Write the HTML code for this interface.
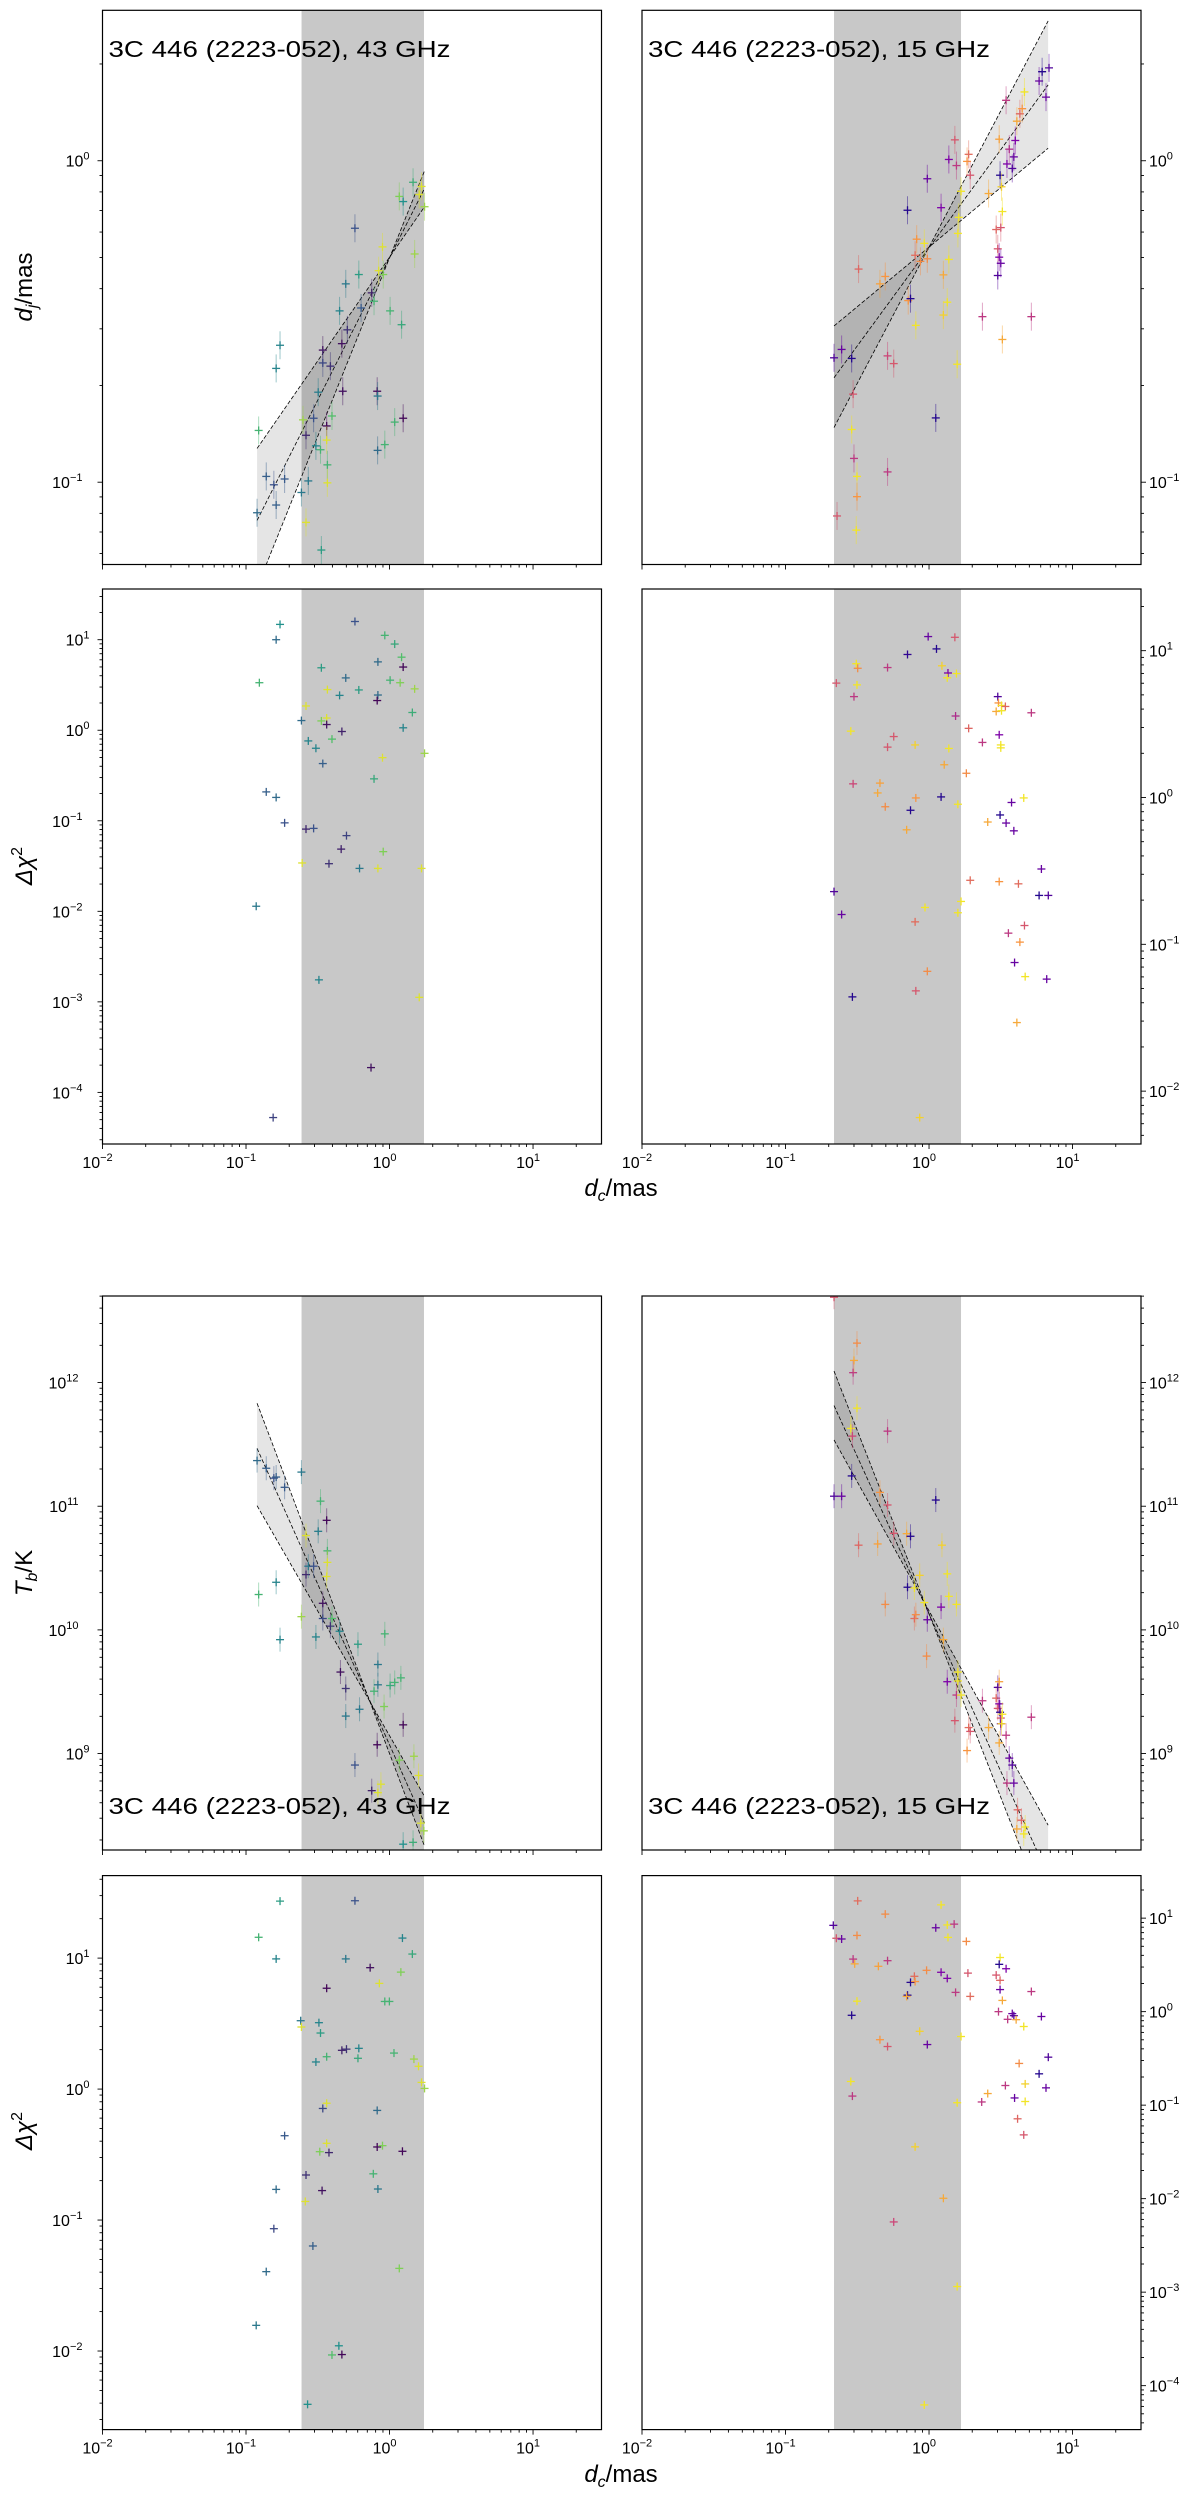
<!DOCTYPE html>
<html><head><meta charset="utf-8"><style>
html,body{margin:0;padding:0;background:#fff;}
svg text{font-family:"Liberation Sans",sans-serif;fill:#000;}
</style></head><body>
<svg id="fig" xmlns="http://www.w3.org/2000/svg" width="1200" height="2499" viewBox="0 0 1200 2499"></svg>
<script>
// ---- data (log10 values) ----
const tlX=[-0.923,-0.912,-0.859,-0.806,-0.790,-0.790,-0.763,-0.731,-0.614,-0.603,-0.582,-0.582,-0.566,-0.529,-0.513,-0.497,-0.481,-0.475,-0.465,-0.465,-0.438,-0.438,-0.433,-0.433,-0.412,-0.401,-0.348,-0.332,-0.326,-0.305,-0.294,-0.241,-0.214,-0.198,-0.124,-0.108,-0.086,-0.083,-0.083,-0.076,-0.049,-0.044,-0.033,0.004,0.036,0.068,0.084,0.095,0.095,0.164,0.175,0.207,0.223,0.244];
const tlY=[-1.095,-0.839,-0.982,-1.008,-1.071,-0.646,-0.574,-0.990,-1.032,-0.806,-1.125,-0.854,-0.996,-0.801,-0.887,-0.720,-0.899,-1.211,-0.589,-0.629,-0.825,-0.869,-0.946,-1.002,-0.639,-0.794,-0.467,-0.569,-0.717,-0.383,-0.526,-0.210,-0.354,-0.458,-0.411,-0.437,-0.717,-0.732,-0.901,-0.342,-0.268,-0.354,-0.883,-0.467,-0.813,-0.111,-0.510,-0.127,-0.801,-0.067,-0.290,-0.105,-0.080,-0.143];
const tlC=[.35,.65,.3,.25,.3,.45,.45,.28,.4,.85,.95,.12,.4,.25,.45,.42,.65,.55,.05,.22,.02,.95,.65,.95,.15,.7,.45,.05,.05,.4,.15,.25,.55,.28,.1,.65,.02,.4,.35,.95,.95,.8,.65,.65,.65,.8,.6,.5,.02,.62,.85,.95,.95,.85];

const trX=[-0.662,-0.641,-0.609,-0.539,-0.539,-0.529,-0.523,-0.507,-0.502,-0.502,-0.491,-0.342,-0.305,-0.289,-0.289,-0.246,-0.150,-0.145,-0.129,-0.097,-0.092,-0.086,-0.060,-0.033,-0.012,-0.012,0.047,0.084,0.100,0.100,0.127,0.138,0.138,0.180,0.191,0.196,0.201,0.207,0.223,0.265,0.276,0.287,0.372,0.415,0.468,0.479,0.479,0.489,0.489,0.495,0.500,0.500,0.505,0.511,0.511,0.537,0.543,0.559,0.580,0.591,0.601,0.612,0.633,0.649,0.665,0.713,0.767,0.788,0.815,0.836];
const trY=[-0.613,-1.105,-0.587,-0.615,-0.836,-0.726,-0.926,-1.149,-0.982,-1.045,-0.337,-0.383,-0.360,-0.607,-0.968,-0.631,-0.154,-0.435,-0.429,-0.294,-0.512,-0.244,-0.313,-0.257,-0.056,-0.305,-0.800,-0.146,-0.355,-0.480,-0.440,0.004,-0.307,0.065,-0.015,-0.633,-0.226,-0.176,-0.095,-0.002,0.020,-0.045,-0.485,-0.102,-0.214,-0.274,-0.357,-0.300,0.067,-0.045,-0.208,-0.319,-0.081,-0.158,-0.556,0.188,-0.010,0.036,-0.024,0.012,0.063,0.123,0.146,0.162,0.214,-0.485,0.248,0.277,0.198,0.289];
const trC=[.15,.55,.2,.05,.95,.55,.45,.95,.95,.75,.6,.78,.75,.5,.45,.55,.05,.75,.05,.62,.95,.75,.72,.95,.2,.72,.05,.25,.8,.9,.95,.25,.95,.55,.45,.95,.95,.95,.95,.75,.62,.55,.45,.8,.6,.55,.15,.25,.78,.05,.55,.2,.9,.95,.8,.45,.25,.4,.15,.2,.25,.8,.6,.75,.95,.45,.2,.05,.2,.15];

const mlX=[-0.763,-0.241,-0.790,-0.033,0.036,0.084,-0.081,0.095,-0.475,-0.907,-0.305,0.004,0.074,-0.433,-0.214,0.175,-0.348,-0.081,-0.086,-0.582,0.159,-0.614,-0.475,-0.438,-0.438,0.095,-0.332,-0.566,-0.401,-0.513,0.244,-0.049,-0.465,-0.108,-0.859,-0.790,-0.731,-0.582,-0.529,-0.300,-0.337,-0.044,-0.609,-0.422,-0.209,-0.081,0.223,-0.929,-0.492,0.207,-0.129,-0.811];
const mlY=[1.169,1.201,1.0,1.048,0.952,0.807,0.755,0.698,0.690,0.525,0.578,0.553,0.525,0.449,0.445,0.457,0.385,0.389,0.328,0.268,0.196,0.107,0.103,0.135,0.063,0.027,-0.014,-0.118,-0.098,-0.199,-0.255,-0.303,-0.368,-0.537,-0.681,-0.742,-1.023,-1.092,-1.084,-1.164,-1.313,-1.341,-1.466,-1.474,-1.526,-1.526,-1.526,-1.944,-2.757,-2.950,-3.726,-4.278];
const mlC=[.5,.25,.35,.65,.6,.7,.35,.02,.55,.65,.35,.65,.8,.95,.55,.85,.45,.35,.02,.95,.62,.35,.8,.95,.05,.45,.1,.45,.7,.45,.85,.95,.3,.6,.3,.35,.25,.12,.25,.2,.1,.8,.95,.15,.4,.95,.95,.4,.45,.95,.05,.2];

const mrX=[-0.006,0.180,0.052,-0.150,-0.507,-0.497,-0.289,0.090,0.132,0.191,0.127,-0.646,-0.502,-0.523,0.479,0.484,0.505,0.532,0.468,0.505,0.713,0.185,0.276,-0.545,0.489,-0.246,0.372,-0.097,0.500,0.500,-0.289,0.138,0.106,0.260,-0.529,-0.342,-0.358,-0.092,0.084,0.660,0.575,0.201,-0.305,-0.129,0.495,0.409,0.537,-0.156,0.591,0.783,0.287,0.489,0.623,-0.662,0.767,0.831,0.223,-0.028,0.201,-0.609,-0.097,0.665,0.553,0.633,0.596,-0.012,0.670,0.820,-0.092,-0.534,0.612,-0.065];
const mrY=[1.096,1.091,1.012,0.974,0.911,0.880,0.885,0.897,0.848,0.844,0.815,0.779,0.767,0.687,0.687,0.644,0.627,0.620,0.586,0.591,0.577,0.555,0.471,0.452,0.427,0.415,0.375,0.358,0.358,0.338,0.343,0.334,0.223,0.165,0.093,0.098,0.031,-0.003,0.004,-0.003,-0.034,-0.046,-0.063,-0.087,-0.119,-0.167,-0.174,-0.220,-0.227,-0.487,-0.564,-0.573,-0.588,-0.641,-0.667,-0.667,-0.708,-0.749,-0.785,-0.797,-0.847,-0.872,-0.924,-0.985,-1.124,-1.184,-1.220,-1.237,-1.317,-1.358,-1.533,-2.180];
const mrC=[.2,.55,.05,.08,.95,.72,.45,.9,.25,.95,.95,.55,.95,.45,.15,.75,.95,.6,.8,.95,.45,.4,.6,.95,.25,.55,.45,.9,.95,.95,.55,.95,.8,.72,.5,.78,.8,.75,.05,.95,.2,.95,.72,.05,.05,.8,.2,.8,.2,.2,.62,.75,.62,.15,.05,.15,.95,.95,.95,.2,.62,.55,.45,.75,.2,.72,.95,.2,.55,.05,.8,.9];

const blX=[-0.923,-0.859,-0.806,-0.790,-0.731,-0.614,-0.912,-0.790,-0.763,-0.614,-0.582,-0.582,-0.566,-0.529,-0.513,-0.497,-0.481,-0.465,-0.465,-0.438,-0.438,-0.433,-0.433,-0.412,-0.401,-0.348,-0.342,-0.305,-0.305,-0.241,-0.220,-0.209,-0.124,-0.108,-0.086,-0.081,-0.081,-0.081,-0.060,-0.038,-0.033,0.004,0.036,0.079,0.068,0.095,0.095,0.164,0.170,0.202,0.218,0.239];
const blY=[11.369,11.307,11.227,11.236,11.153,11.276,10.286,10.385,9.921,10.107,10.763,10.447,10.515,10.515,9.943,10.797,11.041,10.215,10.092,10.886,10.432,10.639,10.546,10.030,10.092,9.989,9.659,9.526,9.303,8.907,9.884,9.358,8.700,9.504,9.071,9.720,9.556,8.684,8.752,9.380,9.968,9.550,9.575,9.612,8.947,9.232,8.267,8.282,8.978,8.823,8.437,8.375];
const blC=[.35,.3,.25,.3,.28,.4,.65,.45,.45,.85,.95,.12,.4,.25,.45,.42,.65,.05,.22,.02,.95,.65,.95,.15,.7,.45,.05,.15,.4,.25,.55,.4,.1,.65,.02,.4,.4,.95,.95,.8,.65,.6,.65,.65,.8,.02,.5,.62,.85,.95,.95,.85];

const brX=[-0.662,-0.662,-0.609,-0.539,-0.545,-0.529,-0.523,-0.502,-0.502,-0.534,-0.491,-0.358,-0.342,-0.305,-0.289,-0.289,-0.246,-0.156,-0.150,-0.129,-0.102,-0.092,-0.065,-0.102,-0.033,-0.012,-0.017,0.047,0.084,0.090,0.100,0.127,0.138,0.127,0.180,0.191,0.191,0.201,0.201,0.223,0.265,0.276,0.287,0.372,0.415,0.468,0.479,0.479,0.489,0.489,0.495,0.500,0.500,0.505,0.511,0.489,0.537,0.543,0.559,0.580,0.591,0.617,0.612,0.644,0.660,0.670,0.713];
const brY=[12.690,11.081,11.081,11.245,11.629,12.080,12.179,12.319,11.793,11.567,10.685,10.695,11.112,10.206,11.607,11.010,10.781,10.778,10.345,10.757,10.092,10.123,10.441,10.339,10.221,10.082,9.788,11.050,10.184,10.685,9.921,10.453,10.271,9.581,9.266,9.473,10.206,9.659,9.587,9.473,9.024,9.210,9.179,9.427,9.210,9.448,9.365,9.535,9.402,9.581,9.334,9.287,9.241,9.241,9.318,9.086,9.148,8.761,8.963,8.907,8.761,8.545,8.390,8.461,8.350,8.406,9.294];
const brC=[.55,.15,.2,.05,.95,.45,.8,.72,.95,.5,.6,.78,.75,.72,.45,.55,.55,.8,.05,.05,.62,.72,.9,.95,.95,.2,.72,.05,.25,.9,.8,.95,.95,.25,.55,.45,.95,.95,.95,.95,.75,.62,.55,.45,.8,.6,.55,.15,.25,.78,.05,.55,.2,.9,.95,.8,.45,.45,.2,.15,.2,.6,.8,.6,.95,.95,.45];

const qlX=[-0.763,-0.241,-0.912,-0.790,-0.305,-0.135,-0.438,0.090,0.159,0.079,-0.071,-0.033,-0.001,-0.619,-0.614,-0.492,-0.481,-0.513,-0.438,-0.332,-0.300,-0.214,-0.220,0.031,0.170,0.202,0.223,0.244,-0.465,-0.438,-0.086,-0.731,-0.438,-0.486,-0.422,-0.086,-0.049,0.090,-0.582,-0.113,-0.790,-0.470,-0.081,-0.587,-0.806,-0.534,-0.859,0.068,-0.929,-0.353,-0.401,-0.332,-0.571];
const qlY=[1.435,1.438,1.159,0.994,0.994,0.927,0.770,1.153,1.031,0.893,0.807,0.669,0.669,0.522,0.474,0.507,0.428,0.207,0.247,0.296,0.305,0.311,0.235,0.275,0.229,0.174,0.051,0.005,-0.148,-0.108,-0.163,-0.356,-0.414,-0.478,-0.485,-0.442,-0.432,-0.475,-0.656,-0.647,-0.766,-0.775,-0.763,-0.858,-1.066,-1.198,-1.394,-1.369,-1.804,-1.960,-2.030,-2.027,-2.407];
const qlC=[.55,.25,.65,.45,.4,.05,.02,.45,.6,.8,.95,.65,.65,.4,.95,.45,.55,.45,.65,.1,.15,.45,.6,.65,.85,.95,.95,.85,.22,.95,.35,.28,.95,.8,.12,.02,.8,.02,.15,.65,.35,.05,.4,.95,.22,.3,.35,.8,.4,.5,.7,.02,.5];

const qrX=[-0.497,-0.305,0.084,-0.667,-0.646,-0.609,-0.502,0.047,0.127,0.175,0.132,0.260,-0.529,-0.518,-0.289,-0.353,0.495,0.489,0.537,-0.017,0.084,0.271,-0.102,-0.129,-0.097,0.127,0.468,0.495,0.495,0.185,0.287,-0.150,-0.156,-0.502,0.511,0.713,-0.539,0.484,0.580,0.591,0.548,0.607,0.783,0.660,-0.065,0.223,-0.342,-0.289,-0.012,0.831,0.628,0.767,-0.545,0.532,0.670,0.409,-0.534,0.596,0.815,0.367,0.670,0.196,0.617,0.660,-0.097,0.100,-0.246,0.196,-0.033];
const qrY=[1.185,1.043,1.142,0.923,0.785,0.777,0.815,0.897,0.927,0.936,0.794,0.751,0.562,0.511,0.545,0.485,0.579,0.506,0.459,0.442,0.421,0.412,0.378,0.313,0.322,0.356,0.391,0.335,0.236,0.206,0.163,0.176,0.163,0.112,0.120,0.215,-0.039,0.0,-0.021,-0.043,-0.082,-0.086,-0.052,-0.159,-0.210,-0.266,-0.300,-0.373,-0.352,-0.487,-0.554,-0.665,-0.747,-0.790,-0.773,-0.876,-0.903,-0.923,-0.815,-0.966,-0.961,-0.974,-1.146,-1.318,-1.446,-1.996,-2.249,-2.940,-4.206];
const qrC=[.62,.72,.95,.15,.55,.2,.72,.2,.95,.45,.95,.72,.45,.8,.45,.78,.95,.05,.25,.72,.25,.55,.62,.05,.75,.25,.55,.6,.2,.45,.62,.05,.8,.95,.8,.45,.05,.45,.2,.15,.45,.8,.2,.95,.9,.95,.75,.55,.2,.15,.72,.05,.95,.45,.9,.8,.45,.2,.2,.45,.95,.95,.6,.55,.9,.8,.5,.95,.95];

// fit lines: log x range, log y at start / end for three lines
const fitTLx=[-0.923,0.244], fitTLy0=[-0.895,-1.119,-1.327], fitTLy1=[-0.143,-0.086,-0.031];
const fitTRx=[-0.662,0.830], fitTRy0=[-0.514,-0.675,-0.830], fitTRy1=[0.039,0.236,0.435];
const fitBLx=[-0.923,0.244], fitBLy0=[11.833,11.468,11.004], fitBLy1=[8.251,8.437,8.653];
const fitBRx=[-0.662,0.830], fitBRy0=[12.093,11.814,11.536], fitBRy1=[7.667,8.016,8.421];
const shadeL=[-0.613,0.240], shadeR=[-0.662,0.223];
const xTicks=[-2,-1,0,1];

// ---- drawing ----
const NS="http://www.w3.org/2000/svg";
const svg=document.getElementById('fig');
function mk(tag,at,parent){const e=document.createElementNS(NS,tag);for(const k in at)e.setAttribute(k,at[k]);(parent||svg).appendChild(e);return e;}
function lerpHex(a,b,t){const pa=[1,3,5].map(i=>parseInt(a.substr(i,2),16)),pb=[1,3,5].map(i=>parseInt(b.substr(i,2),16));return 'rgb('+pa.map((v,i)=>Math.round(v+(pb[i]-v)*t)).join(',')+')';}
const VIR=['#440154','#3b528b','#21918c','#5ec962','#fde725'];
const PLA=['#0d0887','#7e03a8','#cc4778','#f89540','#f0f921'];
function cmap(m,c){c=Math.max(0,Math.min(1,c));const s=c*4,i=Math.min(3,Math.floor(s));return lerpHex(m[i],m[i+1],s-i);}

const COLS={L:[102.5,601.5],R:[642,1141]};
const XR=[-2,1.477];
let clipN=0;
function panel(name,col,yb,yr,yticks,right,showXLabels){
  const [x0,x1]=COLS[col];const [y0,y1]=yb;
  const g=mk('g',{});  
  const sx=v=>x0+(v-XR[0])/(XR[1]-XR[0])*(x1-x0);
  const sy=v=>y1-(v-yr[0])/(yr[1]-yr[0])*(y1-y0);
  const id='cp'+(clipN++);
  const cp=mk('clipPath',{id:id},g);mk('rect',{x:x0,y:y0,width:x1-x0,height:y1-y0},cp);
  const inner=mk('g',{'clip-path':'url(#'+id+')'},g);
  return {g,inner,sx,sy,x0,x1,y0,y1,yr,yticks,right,showXLabels};
}
function axes(p){
  const {g,sx,sy,x0,x1,y0,y1,yr}=p;
  const fr=mk('rect',{x:x0,y:y0,width:x1-x0,height:y1-y0,fill:'none',stroke:'#000','stroke-width':1.2},g);
  
  // x ticks
  for(let d=-2;d<=1;d++){for(let m=1;m<10;m++){const v=d+Math.log10(m);if(v>XR[1])break;const X=sx(v);const L=m==1?5:3;mk('line',{x1:X,x2:X,y1:y1,y2:y1+L,stroke:'#000','stroke-width':0.9},g);}}
  if(p.showXLabels){xTicks.forEach(t=>{const tx=mk('text',{x:sx(t)-5,y:y1+24,'font-size':16,'text-anchor':'middle'},g);tx.textContent='10';const s=mk('tspan',{dy:-7,'font-size':11},tx);s.textContent=(t<0?'−':'')+Math.abs(t);});}
  // y ticks
  const yx=p.right?x1:x0, dir=p.right?1:-1;
  for(let d=Math.floor(yr[0]);d<=Math.ceil(yr[1]);d++){for(let m=1;m<10;m++){const v=d+Math.log10(m);if(v<yr[0]||v>yr[1])continue;const Y=sy(v);const L=m==1?5:3;mk('line',{x1:yx,x2:yx+dir*L,y1:Y,y2:Y,stroke:'#000','stroke-width':0.9},g);}}
  p.yticks.forEach(t=>{const Y=sy(t)+6;const tx=mk('text',{x:p.right?x1+8:x0-(String(Math.abs(t)).length>1?24:(t<0?20:13)),y:Y,'font-size':16,'text-anchor':p.right?'start':'end'},g);tx.textContent='10';const s=mk('tspan',{dy:-7,'font-size':11},tx);s.textContent=(t<0?'−':'')+Math.abs(t);});
}
function shade(p,s){const r=mk('rect',{x:p.sx(s[0]),y:p.y0,width:p.sx(s[1])-p.sx(s[0]),height:p.y1-p.y0,fill:'#c8c8c8'},p.inner);}
function fit(p,fx,fy0,fy1){
  const ln=i=>v=>fy0[i]+(fy1[i]-fy0[i])*(v-fx[0])/(fx[1]-fx[0]);
  const N=30,top=[],bot=[];
  for(let k=0;k<=N;k++){const v=fx[0]+(fx[1]-fx[0])*k/N;const ys=[0,1,2].map(i=>ln(i)(v));top.push([p.sx(v),p.sy(Math.max(...ys))]);bot.push([p.sx(v),p.sy(Math.min(...ys))]);}
  const pts=top.concat(bot.reverse()).map(q=>q.join(',')).join(' ');
  const band=mk('polygon',{points:pts,fill:'#000','fill-opacity':0.1},p.inner);
  
  for(let i=0;i<3;i++){const l=mk('line',{x1:p.sx(fx[0]),y1:p.sy(fy0[i]),x2:p.sx(fx[1]),y2:p.sy(fy1[i]),stroke:'#000','stroke-width':0.8,'stroke-dasharray':'4,2'},p.inner);}
}
function points(p,X,Y,C,cm,err){
  X.forEach((xv,i)=>{const cx=p.sx(xv),cy=p.sy(Y[i]),col=cmap(cm,C[i]);
    const g=mk('g',{},p.inner);
    if(err){mk('line',{x1:cx,x2:cx,y1:cy-err,y2:cy+err,stroke:col,'stroke-width':1,'stroke-opacity':0.45},g);}
    mk('line',{x1:cx-4,x2:cx+4,y1:cy,y2:cy,stroke:col,'stroke-width':1.3},g);
    mk('line',{x1:cx,x2:cx,y1:cy-4,y2:cy+4,stroke:col,'stroke-width':1.3},g);
  });
}
function title(p,txt,y){const t=mk('text',{x:p.x0+6,y:y,'font-size':23,textLength:342,lengthAdjust:'spacingAndGlyphs'},p.g);t.textContent=txt;}

const R1=[10.3,564.5],R2=[589,1144],R3=[1296,1850],R4=[1875.6,2429.6];
// row 1
let p=panel('panel-dj-43ghz','L',R1,[-1.256,0.468],[-1,0],false,false);shade(p,shadeL);fit(p,fitTLx,fitTLy0,fitTLy1);points(p,tlX,tlY,tlC,VIR,14);axes(p);title(p,'3C 446 (2223-052), 43 GHz',57);
p=panel('panel-dj-15ghz','R',R1,[-1.256,0.468],[-1,0],true,false);shade(p,shadeR);fit(p,fitTRx,fitTRy0,fitTRy1);points(p,trX,trY,trC,PLA,14);axes(p);title(p,'3C 446 (2223-052), 15 GHz',57);
// row 2
p=panel('panel-dchi2-dj-43ghz','L',R2,[-4.57,1.56],[-4,-3,-2,-1,0,1],false,true);shade(p,shadeL);points(p,mlX,mlY,mlC,VIR,0);axes(p);
p=panel('panel-dchi2-dj-15ghz','R',R2,[-2.36,1.42],[-2,-1,0,1],true,true);shade(p,shadeR);points(p,mrX,mrY,mrC,PLA,0);axes(p);
// row 3
p=panel('panel-tb-43ghz','L',R3,[8.22,12.70],[9,10,11,12],false,false);shade(p,shadeL);fit(p,fitBLx,fitBLy0,fitBLy1);points(p,blX,blY,blC,VIR,12);axes(p);title(p,'3C 446 (2223-052), 43 GHz',1814);
p=panel('panel-tb-15ghz','R',R3,[8.22,12.70],[9,10,11,12],true,false);shade(p,shadeR);fit(p,fitBRx,fitBRy0,fitBRy1);points(p,brX,brY,brC,PLA,12);axes(p);title(p,'3C 446 (2223-052), 15 GHz',1814);
// row 4
p=panel('panel-dchi2-tb-43ghz','L',R4,[-2.60,1.63],[-2,-1,0,1],false,true);shade(p,shadeL);points(p,qlX,qlY,qlC,VIR,0);axes(p);
p=panel('panel-dchi2-tb-15ghz','R',R4,[-4.47,1.455],[-4,-3,-2,-1,0,1],true,true);shade(p,shadeR);points(p,qrX,qrY,qrC,PLA,0);axes(p);

// axis titles
function lab(name,x,y,rot,main,sub,sup){const t=mk('text',{x:x,y:y,'font-size':24,'text-anchor':'middle',transform:rot?'rotate(-90 '+x+' '+y+')':''});
  const a=mk('tspan',{'font-style':'italic'},t);a.textContent=main;
  if(sub){const s=mk('tspan',{dy:5,'font-size':16,'font-style':'italic'},t);s.textContent=sub;const r=mk('tspan',{dy:-5},t);r.textContent=sup;}
  else if(sup){const s=mk('tspan',{dy:-10,'font-size':16},t);s.textContent=sup;}
  return t;}
lab('y-axis-title-dj',32,287,true,'d','j','/mas');
lab('y-axis-title-dchi2',32,866,true,'Δχ',null,'2');
lab('y-axis-title-tb',32,1573,true,'T','b','/K');
lab('y-axis-title-dchi2',32,2131,true,'Δχ',null,'2');
lab('x-axis-title',621,1196,false,'d','c','/mas');
lab('x-axis-title',621,2482,false,'d','c','/mas');
</script>
</body></html>
